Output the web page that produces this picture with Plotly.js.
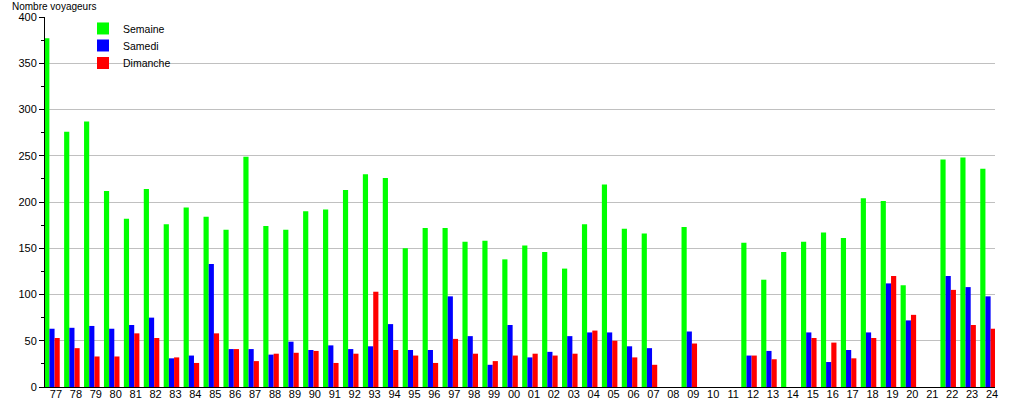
<!DOCTYPE html>
<html>
<head>
<meta charset="utf-8">
<script src="https://cdn.plot.ly/plotly-3.0.1.min.js"></script>
<style>html,body{margin:0;padding:0;background:#fff;}#chart{width:1015px;height:400px;}</style>
</head>
<body>
<div id="chart"></div>
<script>
const years = ["77","78","79","80","81","82","83","84","85","86","87","88","89","90","91","92","93","94","95","96","97","98","99","00","01","02","03","04","05","06","07","08","09","10","11","12","13","14","15","16","17","18","19","20","21","22","23","24"];
const semaine = [377,276,287,212,182,214,176,194,184,170,249,174,170,190,192,213,230,226,150,172,172,157,158,138,153,146,128,176,219,171,166,null,173,null,null,156,116,146,157,167,161,204,201,110,null,246,248,236];
const samedi = [63,64,66,63,67,75,31,34,133,41,41,35,49,40,45,41,44,68,40,40,98,55,24,67,32,38,55,59,59,44,42,null,60,null,null,34,39,null,59,27,40,59,112,72,null,120,108,98];
const dimanche = [53,42,33,33,58,53,32,26,58,41,28,36,37,39,26,36,103,40,34,26,52,36,28,34,36,34,36,61,50,32,24,null,47,null,null,34,30,null,53,48,31,53,120,78,null,105,67,63];
const seriesNames = ["Semaine","Samedi","Dimanche"];
const seriesColors = ["#00ff00","#0000ff","#ff0000"];
const yTitle = "Nombre voyageurs";

const legendIds = ['legend','legend2','legend3'];
const data = [semaine, samedi, dimanche].map((vals, i) => ({
  type: 'bar', x: years, y: vals, name: seriesNames[i],
  marker: {color: seriesColors[i], line: {width: 0}},
  legend: legendIds[i],
  hoverinfo: 'x+y+name'
}));

const legendYs = [0.969, 0.923, 0.876];
function legendCfg(y) {
  return {x: 0.04, y: y, xanchor: 'left', yanchor: 'middle', bgcolor: 'rgba(0,0,0,0)',
          font: {size: 10.5}, borderwidth: 0};
}

const layout = {
  width: 1015, height: 400,
  margin: {l: 45, r: 20, t: 17, b: 13},
  paper_bgcolor: '#ffffff', plot_bgcolor: '#ffffff',
  font: {family: 'Liberation Sans, Arial, sans-serif', size: 11, color: '#000'},
  barmode: 'group', bargap: 0.22, bargroupgap: 0,
  showlegend: true,
  legend: legendCfg(legendYs[0]),
  legend2: legendCfg(legendYs[1]),
  legend3: legendCfg(legendYs[2]),
  xaxis: {
    type: 'category', range: [-0.35, 47.35], showgrid: false,
    showline: true, linecolor: '#000', linewidth: 1, ticks: '', ticklen: 0,
    tickfont: {size: 11}, automargin: false, ticklabelshift: 4, ticklabelstandoff: -3,
    fixedrange: true, zeroline: false
  },
  yaxis: {
    range: [0, 400], dtick: 50, tick0: 0, showgrid: true, gridcolor: '#c0c0c0', gridwidth: 1,
    showline: true, linecolor: '#000', linewidth: 1, ticks: 'outside', ticklen: 5, tickcolor: '#000',
    minor: {dtick: 25, ticks: 'outside', ticklen: 3, tickcolor: '#000', showgrid: false},
    tickfont: {size: 11}, automargin: false, zeroline: false, fixedrange: true
  },
  annotations: [{
    text: yTitle, xref: 'paper', yref: 'paper', x: -0.037, y: 1.0, xanchor: 'left', yanchor: 'bottom',
    showarrow: false, font: {size: 10}, yshift: 3
  }]
};
Plotly.newPlot('chart', data, layout, {displayModeBar: false, staticPlot: true});
</script>
</body>
</html>
